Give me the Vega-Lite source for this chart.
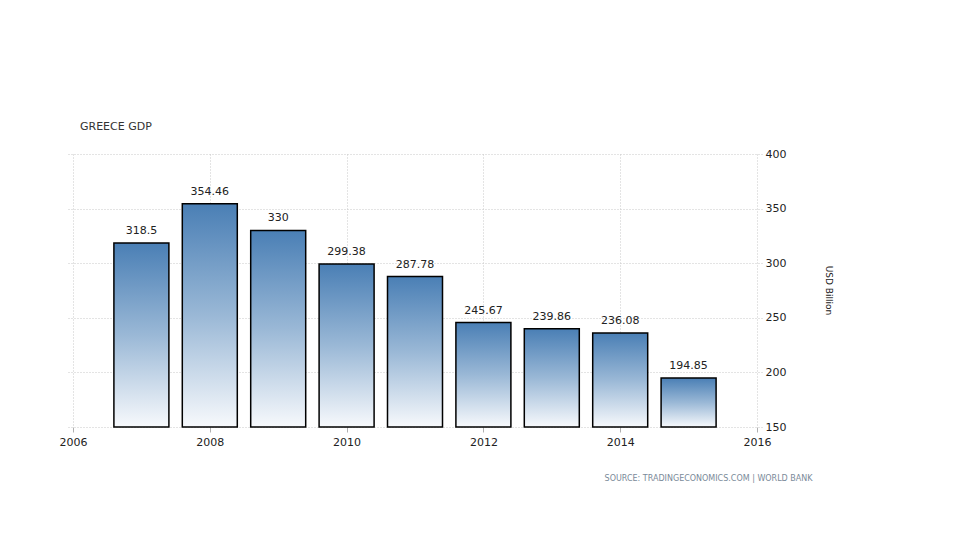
{
  "$schema": "https://vega.github.io/schema/vega-lite/v6.json",
  "autosize": "none",
  "width": 694,
  "height": 273,
  "padding": {"left": 68, "top": 154, "right": 198, "bottom": 113},
  "background": "white",
  "title": {
    "text": "GREECE GDP",
    "anchor": "start",
    "frame": "group",
    "dx": 12,
    "offset": 16,
    "font": "DejaVu Sans",
    "fontSize": 11,
    "fontWeight": "normal",
    "color": "#333333"
  },
  "config": {
    "view": {"stroke": null},
    "axis": {
      "labelFont": "DejaVu Sans",
      "labelFontSize": 11,
      "labelColor": "#222222",
      "gridColor": "#c8c8c8",
      "gridDash": [1, 2],
      "gridWidth": 1,
      "domain": false
    }
  },
  "data": {
    "values": [
      {"year": 2007, "gdp": 318.5},
      {"year": 2008, "gdp": 354.46},
      {"year": 2009, "gdp": 330},
      {"year": 2010, "gdp": 299.38},
      {"year": 2011, "gdp": 287.78},
      {"year": 2012, "gdp": 245.67},
      {"year": 2013, "gdp": 239.86},
      {"year": 2014, "gdp": 236.08},
      {"year": 2015, "gdp": 194.85}
    ]
  },
  "encoding": {
    "x": {
      "field": "year",
      "type": "quantitative",
      "scale": {"domain": [2006, 2016], "nice": false, "zero": false},
      "axis": {
        "values": [2006, 2008, 2010, 2012, 2014, 2016],
        "format": "d",
        "tickColor": "#b0b0b0",
        "tickSize": 5,
        "labelPadding": 4,
        "title": "SOURCE: TRADINGECONOMICS.COM | WORLD BANK",
        "titleFont": "DejaVu Sans",
        "titleFontSize": 8,
        "titleFontWeight": "normal",
        "titleColor": "#7a8a99",
        "titleX": 744,
        "titleY": 51,
        "titleAlign": "right",
        "titleBaseline": "middle"
      }
    }
  },
  "layer": [
    {
      "mark": {
        "type": "bar",
        "width": 55,
        "stroke": "#000000",
        "strokeWidth": 1.5,
        "fill": {
          "gradient": "linear",
          "x1": 0, "y1": 0, "x2": 0, "y2": 1,
          "stops": [
            {"offset": 0, "color": "#4a7fb5"},
            {"offset": 0.5, "color": "#9ab8d6"},
            {"offset": 1, "color": "#f7f9fc"}
          ]
        }
      },
      "encoding": {
        "y": {
          "field": "gdp",
          "type": "quantitative",
          "scale": {"domain": [150, 400], "nice": false, "zero": false},
          "axis": {
            "orient": "right",
            "values": [150, 200, 250, 300, 350, 400],
            "ticks": false,
            "labelPadding": 3,
            "title": "USD Billion",
            "titleFont": "DejaVu Sans",
            "titleFontSize": 9,
            "titleFontWeight": "normal",
            "titleColor": "#222222",
            "titleAngle": 90,
            "titleX": 66,
            "titleY": 136,
            "titleAlign": "center",
            "titleBaseline": "middle"
          }
        },
        "y2": {"datum": 150}
      }
    },
    {
      "mark": {
        "type": "text",
        "dy": -12,
        "font": "DejaVu Sans",
        "fontSize": 11,
        "color": "#222222"
      },
      "encoding": {
        "y": {"field": "gdp", "type": "quantitative"},
        "text": {"field": "gdp", "type": "quantitative", "format": ".5~g"}
      }
    }
  ]
}
